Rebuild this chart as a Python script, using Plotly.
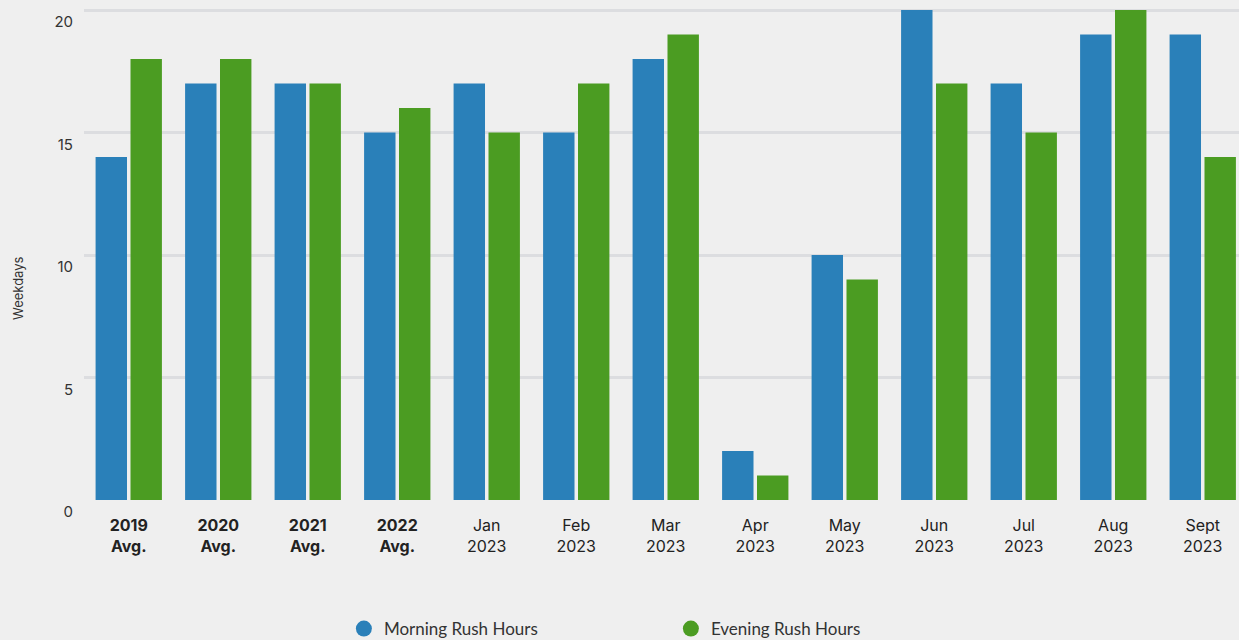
import plotly.graph_objects as go

categories = ["<b>2019</b><br><b>Avg.</b>", "<b>2020</b><br><b>Avg.</b>", "<b>2021</b><br><b>Avg.</b>",
              "<b>2022</b><br><b>Avg.</b>", "Jan<br>2023", "Feb<br>2023", "Mar<br>2023", "Apr<br>2023",
              "May<br>2023", "Jun<br>2023", "Jul<br>2023", "Aug<br>2023", "Sept<br>2023"]
morning = [14, 17, 17, 15, 17, 15, 18, 2, 10, 20, 17, 19, 19]
evening = [18, 18, 17, 16, 15, 17, 19, 1, 9, 17, 15, 20, 14]
y_ticks = [0, 5, 10, 15, 20]
y_title = "Weekdays"

BLUE = "#2a80b9"
GREEN = "#4b9c22"

fig = go.Figure()
fig.add_trace(go.Bar(x=categories, y=morning, name="Morning Rush Hours",
                     marker=dict(color=BLUE, line=dict(width=0)), showlegend=False))
fig.add_trace(go.Bar(x=categories, y=evening, name="Evening Rush Hours",
                     marker=dict(color=GREEN, line=dict(width=0)), showlegend=False))
# legend entries with circle markers
fig.add_trace(go.Scatter(x=[None], y=[None], mode="markers", name="Morning Rush Hours",
                         marker=dict(color=BLUE, size=17, symbol="circle")))
fig.add_trace(go.Scatter(x=[None], y=[None], mode="markers", name="Evening Rush Hours",
                         marker=dict(color=GREEN, size=17, symbol="circle")))

fig.update_layout(
    width=1239, height=640,
    margin=dict(l=84, r=0, t=0, b=140, autoexpand=False),
    paper_bgcolor="#efefef", plot_bgcolor="#efefef",
    barmode="group", bargap=0.22, bargroupgap=0.1,
    font=dict(family="Inter, Roboto, sans-serif", color="#222"),
    showlegend=True,
    legend=dict(orientation="h", x=0.225, xanchor="left", y=-0.258, yanchor="middle",
                entrywidth=282, entrywidthmode="pixels",
                font=dict(family="Lato, sans-serif", size=17, color="#333"),
                bgcolor="rgba(0,0,0,0)"),
    annotations=[dict(text=y_title, textangle=-90, xref="paper", yref="paper",
                      x=0, y=0.424, xanchor="center", yanchor="middle", xshift=-66,
                      showarrow=False, font=dict(size=13, color="#333"))],
)
fig.update_xaxes(
    type="category", range=[-0.5, 12.405], automargin=False,
    showgrid=False, zeroline=False, showline=False, ticks="",
    ticklabelstandoff=14,
    tickfont=dict(size=16, color="#222"),
)
fig.update_yaxes(
    range=[0, 20.41], tickvals=y_ticks, automargin=False,
    showgrid=True, gridcolor="#dcdde0", gridwidth=3,
    zeroline=False, showline=False, ticks="",
    ticklabelstandoff=10, ticklabelshift=12,
    tickfont=dict(size=15, color="#333"),
)

fig.write_html("out.html")
